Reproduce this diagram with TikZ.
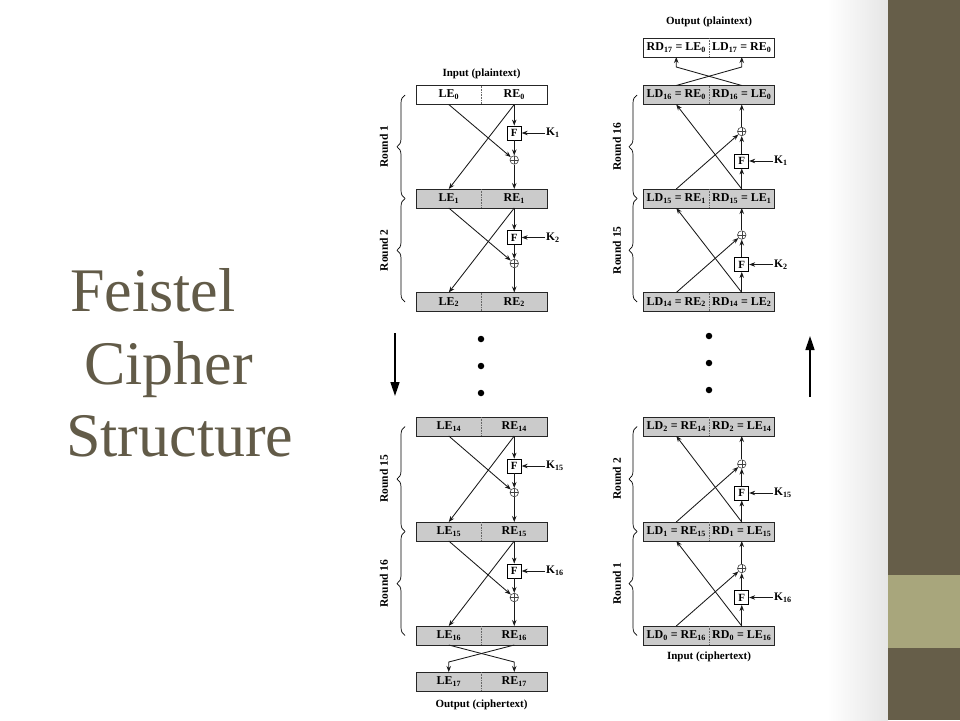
\documentclass[tikz,border=0pt]{standalone}
\usepackage{fontspec}
\setmainfont{Liberation Serif}
\usetikzlibrary{arrows.meta,decorations.pathreplacing}

\definecolor{sidebrown}{RGB}{102,94,73}
\definecolor{sideolive}{RGB}{168,166,124}
\definecolor{titlebrown}{RGB}{98,91,72}
\definecolor{boxgray}{RGB}{203,203,203}

\newcommand{\sub}[1]{\textsubscript{#1}}
% one data row: two halves, outer frame, dotted middle line
\newcommand{\datarow}[6]{%
  \node[half, fill=#6, anchor=east] (#1l) at (#2,#3) {#4};
  \node[half, fill=#6, anchor=west] (#1r) at (#2,#3) {#5};
  \draw[frame] (#1l.north west) rectangle (#1r.south east);
  \draw[divider] (#1l.north east) -- (#1l.south east);
}

\begin{document}
\begin{tikzpicture}[x=1pt, y=-1pt,
  half/.style={minimum width=65.5pt, minimum height=19pt, inner sep=0pt, outer sep=0pt,
    font=\bfseries\fontsize{12}{12}\selectfont},
  frame/.style={line width=1pt, black!85},
  divider/.style={densely dotted, line width=0.6pt, black!60},
  fn/.style={draw, fill=white, minimum size=14pt, inner sep=0pt, line width=0.8pt,
    font=\bfseries\fontsize{11}{11}\selectfont},
  xor/.style={draw=black!75, circle, fill=white, minimum size=8.5pt, inner sep=0pt, line width=0.6pt,
    path picture={\draw[black!75, line width=0.5pt] (path picture bounding box.north) -- (path picture bounding box.south)
      (path picture bounding box.west) -- (path picture bounding box.east);}},
  key/.style={anchor=west, inner sep=1pt, font=\bfseries\fontsize{11.5}{11.5}\selectfont},
  lbl/.style={font=\bfseries\fontsize{11}{11}\selectfont},
  rnd/.style={rotate=90, font=\bfseries\fontsize{11.5}{11.5}\selectfont},
  brc/.style={decorate, decoration={brace, amplitude=8pt}, line width=0.7pt},
  arr/.style={-{Stealth[length=6pt, width=4.5pt]}, line width=0.85pt, black!90},
  big/.style={-{Triangle[length=14pt, width=9pt]}, line width=1.6pt},
  dot/.style={circle, fill=black, inner sep=0pt, minimum size=6.5pt}
]
\useasboundingbox (0,0) rectangle (960,720);

% slide background
\fill[white] (0,0) rectangle (960,720);
\shade[left color=white, right color=black!10] (827,0) rectangle (888,720);
\fill[sidebrown] (888,0) rectangle (960,720);
\fill[sideolive] (888,575) rectangle (960,648);

% title
\node[anchor=base west, inner sep=0pt, text=titlebrown, font=\fontsize{62}{62}\selectfont] (title1) at (70,311) {Feistel};
\node[anchor=base west, inner sep=0pt, text=titlebrown, font=\fontsize{62}{62}\selectfont] (title2) at (84,384) {Cipher};
\node[anchor=base west, inner sep=0pt, text=titlebrown, font=\fontsize{62}{62}\selectfont] (title3) at (66,456) {Structure};

% encryption (left)
\node[lbl] (inp) at (481.5,74) {Input (plaintext)};
\datarow{e0}{481.5}{95}{LE\sub{0}}{RE\sub{0}}{white}
\datarow{e1}{481.5}{198.5}{LE\sub{1}}{RE\sub{1}}{boxgray}
\datarow{e2}{481.5}{302}{LE\sub{2}}{RE\sub{2}}{boxgray}
\datarow{e14}{481.5}{426.5}{LE\sub{14}}{RE\sub{14}}{boxgray}
\datarow{e15}{481.5}{531.5}{LE\sub{15}}{RE\sub{15}}{boxgray}
\datarow{e16}{481.5}{635.5}{LE\sub{16}}{RE\sub{16}}{boxgray}
\datarow{e17}{481.5}{681.5}{LE\sub{17}}{RE\sub{17}}{boxgray}
\node[lbl] (outc) at (481.5,705) {Output (ciphertext)};

% round 1
\node[fn] (f1) at (514.25,133) {F};
\node[xor] (x1) at (514.25,160) {};
\node[key] (k1) at (545,133) {K\sub{1}};
\draw[arr] (e0r.south) -- (f1);
\draw[arr] (f1) -- (x1);
\draw[arr] (x1) -- (e1r.north);
\draw[arr] (k1) -- (f1);
\draw[arr] (e0l.south) -- (x1);
\draw[arr] (e0r.south) -- (e1l.north);
% round 2
\node[fn] (f2) at (514.25,237.5) {F};
\node[xor] (x2) at (514.25,263.5) {};
\node[key] (k2) at (545,237.5) {K\sub{2}};
\draw[arr] (e1r.south) -- (f2);
\draw[arr] (f2) -- (x2);
\draw[arr] (x2) -- (e2r.north);
\draw[arr] (k2) -- (f2);
\draw[arr] (e1l.south) -- (x2);
\draw[arr] (e1r.south) -- (e2l.north);
% round 15
\node[fn] (f15) at (514.25,466) {F};
\node[xor] (x15) at (514.25,492.5) {};
\node[key] (k15) at (545,466) {K\sub{15}};
\draw[arr] (e14r.south) -- (f15);
\draw[arr] (f15) -- (x15);
\draw[arr] (x15) -- (e15r.north);
\draw[arr] (k15) -- (f15);
\draw[arr] (e14l.south) -- (x15);
\draw[arr] (e14r.south) -- (e15l.north);
% round 16
\node[fn] (f16) at (514.25,571) {F};
\node[xor] (x16) at (514.25,597.5) {};
\node[key] (k16) at (545,571) {K\sub{16}};
\draw[arr] (e15r.south) -- (f16);
\draw[arr] (f16) -- (x16);
\draw[arr] (x16) -- (e16r.north);
\draw[arr] (k16) -- (f16);
\draw[arr] (e15l.south) -- (x16);
\draw[arr] (e15r.south) -- (e16l.north);
% final swap
\coordinate (eb1) at (514.25,662);
\coordinate (eb2) at (448.75,662);
\draw[arr] (e16l.south) -- (eb1) -- (e17r.north);
\draw[arr] (e16r.south) -- (eb2) -- (e17l.north);

% round braces (left)
\draw[brc] (405,198.5) -- (405,95);
\draw[brc] (405,302) -- (405,198.5);
\draw[brc] (405,531.5) -- (405,426.5);
\draw[brc] (405,635.5) -- (405,531.5);
\node[rnd] (re1) at (384,146.75) {Round 1};
\node[rnd] (re2) at (384,250.25) {Round 2};
\node[rnd] (re15) at (384,479) {Round 15};
\node[rnd] (re16) at (384,583.5) {Round 16};

% decryption (right)
\node[lbl] (outp) at (709,22) {Output (plaintext)};
\datarow{d17}{709}{47.5}{RD\sub{17} = LE\sub{0}}{LD\sub{17} = RE\sub{0}}{white}
\datarow{d16}{709}{95}{LD\sub{16} = RE\sub{0}}{RD\sub{16} = LE\sub{0}}{boxgray}
\datarow{d15}{709}{198.5}{LD\sub{15} = RE\sub{1}}{RD\sub{15} = LE\sub{1}}{boxgray}
\datarow{d14}{709}{302}{LD\sub{14} = RE\sub{2}}{RD\sub{14} = LE\sub{2}}{boxgray}
\datarow{d2}{709}{426.5}{LD\sub{2} = RE\sub{14}}{RD\sub{2} = LE\sub{14}}{boxgray}
\datarow{d1}{709}{531.5}{LD\sub{1} = RE\sub{15}}{RD\sub{1} = LE\sub{15}}{boxgray}
\datarow{d0}{709}{635.5}{LD\sub{0} = RE\sub{16}}{RD\sub{0} = LE\sub{16}}{boxgray}
\node[lbl] (inc) at (709,657) {Input (ciphertext)};

% round 16
\node[fn] (rf16) at (741.75,161) {F};
\node[xor] (rx16) at (741.75,131.5) {};
\node[key] (rk16) at (773,161) {K\sub{1}};
\draw[arr] (d15r.north) -- (rf16);
\draw[arr] (rf16) -- (rx16);
\draw[arr] (rx16) -- (d16r.south);
\draw[arr] (rk16) -- (rf16);
\draw[arr] (d15l.north) -- (rx16);
\draw[arr] (d15r.north) -- (d16l.south);
% round 15
\node[fn] (rf15) at (741.75,264.5) {F};
\node[xor] (rx15) at (741.75,235) {};
\node[key] (rk15) at (773,264.5) {K\sub{2}};
\draw[arr] (d14r.north) -- (rf15);
\draw[arr] (rf15) -- (rx15);
\draw[arr] (rx15) -- (d15r.south);
\draw[arr] (rk15) -- (rf15);
\draw[arr] (d14l.north) -- (rx15);
\draw[arr] (d14r.north) -- (d15l.south);
% round 2
\node[fn] (rf2) at (741.75,493) {F};
\node[xor] (rx2) at (741.75,464) {};
\node[key] (rk2) at (773,493) {K\sub{15}};
\draw[arr] (d1r.north) -- (rf2);
\draw[arr] (rf2) -- (rx2);
\draw[arr] (rx2) -- (d2r.south);
\draw[arr] (rk2) -- (rf2);
\draw[arr] (d1l.north) -- (rx2);
\draw[arr] (d1r.north) -- (d2l.south);
% round 1
\node[fn] (rf1) at (741.75,597.5) {F};
\node[xor] (rx1) at (741.75,568.5) {};
\node[key] (rk1) at (773,597.5) {K\sub{16}};
\draw[arr] (d0r.north) -- (rf1);
\draw[arr] (rf1) -- (rx1);
\draw[arr] (rx1) -- (d1r.south);
\draw[arr] (rk1) -- (rf1);
\draw[arr] (d0l.north) -- (rx1);
\draw[arr] (d0r.north) -- (d1l.south);
% final swap
\coordinate (db1) at (741.75,67);
\coordinate (db2) at (676.25,67);
\draw[arr] (d16l.north) -- (db1) -- (d17r.south);
\draw[arr] (d16r.north) -- (db2) -- (d17l.south);

% round braces (right)
\draw[brc] (637,198.5) -- (637,95);
\draw[brc] (637,302) -- (637,198.5);
\draw[brc] (637,531.5) -- (637,426.5);
\draw[brc] (637,635.5) -- (637,531.5);
\node[rnd] (rd16) at (617,146.75) {Round 16};
\node[rnd] (rd15) at (617,250.25) {Round 15};
\node[rnd] (rd2) at (617,479) {Round 2};
\node[rnd] (rd1) at (617,583.5) {Round 1};

% skipped rounds and direction
\node[dot] (ldot1) at (481,339) {};
\node[dot] (ldot2) at (481,366) {};
\node[dot] (ldot3) at (481,393) {};
\node[dot] (rdot1) at (709,336) {};
\node[dot] (rdot2) at (709,363) {};
\node[dot] (rdot3) at (709,390) {};
\coordinate (dntop) at (395,333);
\coordinate (dnend) at (395,396);
\coordinate (upbot) at (810,397);
\coordinate (upend) at (810,336);
\draw[big] (dntop) -- (dnend);
\draw[big] (upbot) -- (upend);
\end{tikzpicture}
\end{document}
